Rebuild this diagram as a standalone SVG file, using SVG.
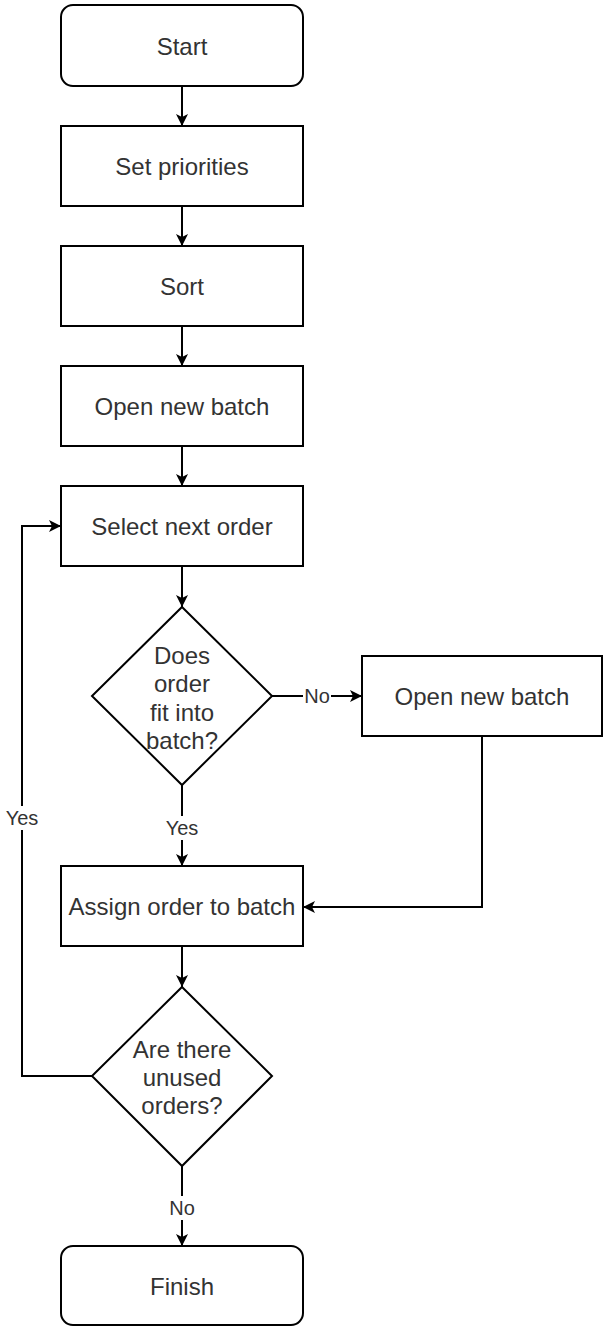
<svg xmlns="http://www.w3.org/2000/svg" width="604" height="1326" viewBox="0 0 604 1326">
  <style>
    .box { fill: #ffffff; stroke: #000000; stroke-width: 2; }
    .txt { font-family: "Liberation Sans", Arial, sans-serif; font-size: 24px; fill: #333333; text-anchor: middle; dominant-baseline: central; }
    .lbl { font-family: "Liberation Sans", Arial, sans-serif; font-size: 20px; fill: #333333; text-anchor: middle; dominant-baseline: central; }
    .edge { fill: none; stroke: #000000; stroke-width: 2; }
    .lblbg { fill: #ffffff; }
  </style>
  <defs>
    <marker id="arrow" viewBox="0 0 12 12" refX="12" refY="6" markerWidth="12" markerHeight="12" markerUnits="userSpaceOnUse" orient="auto">
      <path d="M0,0 L12,6 L0,12 L3,6 Z" fill="#000000"/>
    </marker>
  </defs>

  <rect width="604" height="1326" fill="#ffffff"/>

  <!-- connectors -->
  <g id="connectors">
    <path class="edge" d="M182,86 V126" marker-end="url(#arrow)"/>
    <path class="edge" d="M182,206 V246" marker-end="url(#arrow)"/>
    <path class="edge" d="M182,326 V366" marker-end="url(#arrow)"/>
    <path class="edge" d="M182,446 V486" marker-end="url(#arrow)"/>
    <path class="edge" d="M182,566 V607" marker-end="url(#arrow)"/>
    <path class="edge" d="M272,696 H362" marker-end="url(#arrow)"/>
    <path class="edge" d="M182,785 V866" marker-end="url(#arrow)"/>
    <path class="edge" d="M482,736 V907 H303" marker-end="url(#arrow)"/>
    <path class="edge" d="M182,946 V987" marker-end="url(#arrow)"/>
    <path class="edge" d="M92,1076 H22 V526 H61" marker-end="url(#arrow)"/>
    <path class="edge" d="M182,1166 V1246" marker-end="url(#arrow)"/>

    <!-- edge labels -->
    <rect class="lblbg" x="303" y="684" width="28" height="24"/>
    <text class="lbl" x="317" y="696">No</text>
    <rect class="lblbg" x="164" y="816" width="36" height="24"/>
    <text class="lbl" x="182" y="828">Yes</text>
    <rect class="lblbg" x="4" y="806" width="36" height="24"/>
    <text class="lbl" x="22" y="818">Yes</text>
    <rect class="lblbg" x="168" y="1196" width="28" height="24"/>
    <text class="lbl" x="182" y="1208">No</text>
  </g>

  <g id="start">
    <rect class="box" x="61" y="5" width="242" height="81" rx="12" ry="12"/>
    <text class="txt" x="182" y="46">Start</text>
  </g>

  <g id="set-priorities">
    <rect class="box" x="61" y="126" width="242" height="80"/>
    <text class="txt" x="182" y="166">Set priorities</text>
  </g>

  <g id="sort">
    <rect class="box" x="61" y="246" width="242" height="80"/>
    <text class="txt" x="182" y="286">Sort</text>
  </g>

  <g id="open-batch-1">
    <rect class="box" x="61" y="366" width="242" height="80"/>
    <text class="txt" x="182" y="406">Open new batch</text>
  </g>

  <g id="select-next">
    <rect class="box" x="61" y="486" width="242" height="80"/>
    <text class="txt" x="182" y="526">Select next order</text>
  </g>

  <g id="fits-decision">
    <polygon class="box" points="182,607 272,696 182,785 92,696"/>
    <text class="txt" x="182" y="655">Does</text>
    <text class="txt" x="182" y="683">order</text>
    <text class="txt" x="182" y="712">fit into</text>
    <text class="txt" x="182" y="740">batch?</text>
  </g>

  <g id="open-batch-2">
    <rect class="box" x="362" y="656" width="240" height="80"/>
    <text class="txt" x="482" y="696">Open new batch</text>
  </g>

  <g id="assign">
    <rect class="box" x="61" y="866" width="242" height="80"/>
    <text class="txt" x="182" y="906">Assign order to batch</text>
  </g>

  <g id="unused-decision">
    <polygon class="box" points="182,987 272,1076 182,1166 92,1076"/>
    <text class="txt" x="182" y="1049">Are there</text>
    <text class="txt" x="182" y="1077">unused</text>
    <text class="txt" x="182" y="1105">orders?</text>
  </g>

  <g id="finish">
    <rect class="box" x="61" y="1246" width="242" height="79" rx="12" ry="12"/>
    <text class="txt" x="182" y="1286">Finish</text>
  </g>
</svg>
